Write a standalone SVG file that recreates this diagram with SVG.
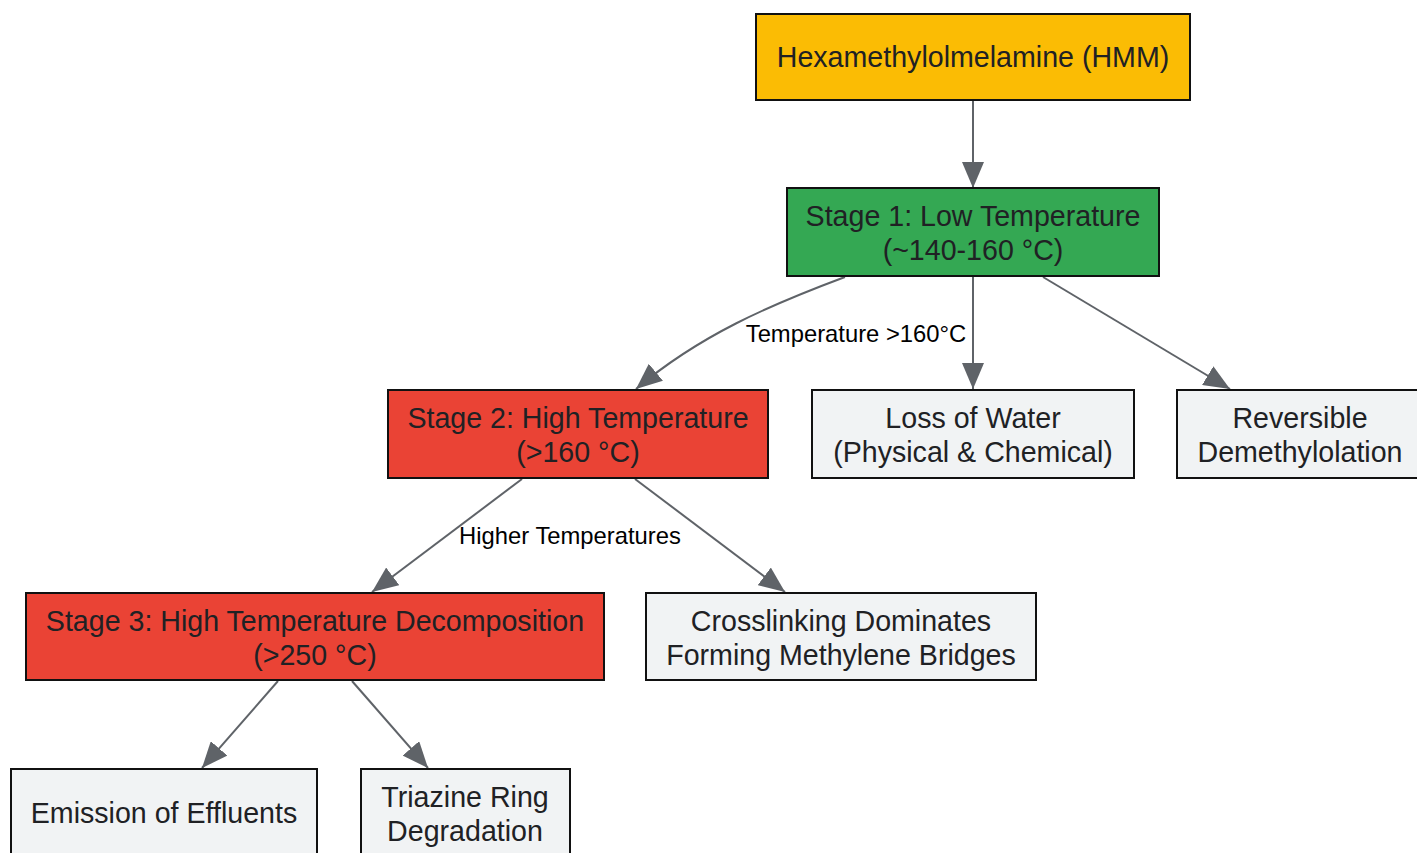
<svg xmlns="http://www.w3.org/2000/svg" width="1417" height="853" viewBox="0 0 1417 853">
<style>
.box{stroke:#111;stroke-width:2}
.yellow{fill:#FBBC04}
.green{fill:#34A853}
.red{fill:#EA4335}
.gray{fill:#F1F3F4}
.t{font-family:"Liberation Sans",Arial,sans-serif;font-size:28.6px;fill:#202124;text-anchor:middle}
.el{font-family:"Liberation Sans",Arial,sans-serif;font-size:23.8px;fill:#000;text-anchor:middle}
.e{fill:none;stroke:#5F6368;stroke-width:2;marker-end:url(#arr)}
</style>
<defs>
<marker id="arr" markerUnits="userSpaceOnUse" markerWidth="26" markerHeight="22" refX="26" refY="11" orient="auto">
<path d="M0,0 L26,11 L0,22 z" fill="#5F6368"/>
</marker>
</defs>
<rect width="1417" height="853" fill="#fff"/>
<g id="connectors">
<path class="e" d="M973,100 L973,188"/>
<path class="e" d="M845,277 C770,305 700,335 636,389"/>
<path class="e" d="M973,277 L973,389"/>
<path class="e" d="M1043,277 L1230,389"/>
<path class="e" d="M522,479 L372,592"/>
<path class="e" d="M635,479 L785,592"/>
<path class="e" d="M278,681 L202,768"/>
<path class="e" d="M352,681 L428,768"/>
<text class="el" x="856" y="342">Temperature &gt;160°C</text>
<text class="el" x="570" y="544">Higher Temperatures</text>
</g>
<g id="hmm">
<rect class="box yellow" x="756" y="14" width="434" height="86"/>
<text class="t" x="973" y="67">Hexamethylolmelamine (HMM)</text>
</g>
<g id="stage1">
<rect class="box green" x="787" y="188" width="372" height="88"/>
<text class="t" x="973" y="226">Stage 1: Low Temperature</text>
<text class="t" x="973" y="260">(~140-160 °C)</text>
</g>
<g id="stage2">
<rect class="box red" x="388" y="390" width="380" height="88"/>
<text class="t" x="578" y="428">Stage 2: High Temperature</text>
<text class="t" x="578" y="462">(&gt;160 °C)</text>
</g>
<g id="water">
<rect class="box gray" x="812" y="390" width="322" height="88"/>
<text class="t" x="973" y="428">Loss of Water</text>
<text class="t" x="973" y="462">(Physical &amp; Chemical)</text>
</g>
<g id="demethylolation">
<rect class="box gray" x="1177" y="390" width="246" height="88"/>
<text class="t" x="1300" y="428">Reversible</text>
<text class="t" x="1300" y="462">Demethylolation</text>
</g>
<g id="stage3">
<rect class="box red" x="26" y="593" width="578" height="87"/>
<text class="t" x="315" y="631">Stage 3: High Temperature Decomposition</text>
<text class="t" x="315" y="665">(&gt;250 °C)</text>
</g>
<g id="crosslinking">
<rect class="box gray" x="646" y="593" width="390" height="87"/>
<text class="t" x="841" y="631">Crosslinking Dominates</text>
<text class="t" x="841" y="665">Forming Methylene Bridges</text>
</g>
<g id="emission">
<rect class="box gray" x="11" y="769" width="306" height="90"/>
<text class="t" x="164" y="823">Emission of Effluents</text>
</g>
<g id="triazine">
<rect class="box gray" x="361" y="769" width="209" height="90"/>
<text class="t" x="465" y="807">Triazine Ring</text>
<text class="t" x="465" y="841">Degradation</text>
</g>
</svg>
